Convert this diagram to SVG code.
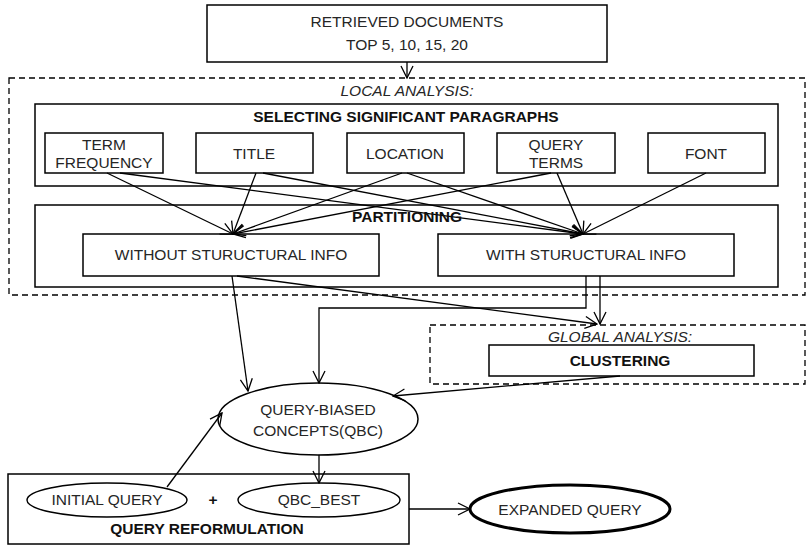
<svg xmlns="http://www.w3.org/2000/svg" width="806" height="546" viewBox="0 0 806 546">
<defs>
<marker id="arr" markerUnits="userSpaceOnUse" markerWidth="14" markerHeight="14" viewBox="0 0 14 14" refX="13" refY="7" orient="auto">
<path d="M1,1 L13,7 L1,13" fill="none" stroke="#000" stroke-width="1.3"/>
</marker>
<style>
.box{fill:#fff;stroke:#000;stroke-width:1.5}
.dash{fill:none;stroke:#000;stroke-width:1.3;stroke-dasharray:6 4}
.t{font-family:"Liberation Sans",Arial,sans-serif;font-size:15.5px;fill:#262626;text-anchor:middle}
.b{font-weight:bold;fill:#111}
.i{font-style:italic}
.c{fill:none;stroke:#000;stroke-width:1.3;marker-end:url(#arr)}
</style>
</defs>
<rect width="806" height="546" fill="#fff"/>

<g id="local-analysis">
<rect class="dash" x="9" y="78" width="796" height="217"/>
<text class="t i" x="407" y="96">LOCAL ANALYSIS:</text>
</g>
<g id="global-analysis">
<rect class="dash" x="430" y="325" width="375" height="59"/>
<text class="t i" x="620" y="342">GLOBAL ANALYSIS:</text>
</g>

<g id="retrieved">
<rect class="box" x="207" y="5" width="400" height="57"/>
<text class="t" x="407" y="27">RETRIEVED DOCUMENTS</text>
<text class="t" x="407" y="50">TOP 5, 10, 15, 20</text>
</g>

<g id="selecting">
<rect class="box" x="35" y="104" width="743" height="82"/>
<text class="t b" x="406" y="122">SELECTING SIGNIFICANT PARAGRAPHS</text>
</g>
<g id="term-frequency">
<rect class="box" x="45" y="133" width="118" height="40"/>
<text class="t" x="104" y="150">TERM</text>
<text class="t" x="104" y="168">FREQUENCY</text>
</g>
<g id="title">
<rect class="box" x="196" y="133" width="117" height="40"/>
<text class="t" x="254" y="159">TITLE</text>
</g>
<g id="location">
<rect class="box" x="347" y="133" width="117" height="40"/>
<text class="t" x="405" y="159">LOCATION</text>
</g>
<g id="query-terms">
<rect class="box" x="497" y="133" width="118" height="40"/>
<text class="t" x="556" y="150">QUERY</text>
<text class="t" x="556" y="168">TERMS</text>
</g>
<g id="font">
<rect class="box" x="648" y="133" width="117" height="40"/>
<text class="t" x="706" y="159">FONT</text>
</g>

<g id="partitioning">
<rect class="box" x="35" y="205" width="743" height="82"/>
</g>
<g id="without">
<rect class="box" x="83" y="234" width="296" height="42"/>
<text class="t" x="231" y="260">WITHOUT STURUCTURAL INFO</text>
</g>
<g id="with">
<rect class="box" x="438" y="234" width="296" height="42"/>
<text class="t" x="586" y="260">WITH STURUCTURAL INFO</text>
</g>

<g id="clustering">
<rect class="box" x="489" y="345" width="265" height="31"/>
<text class="t b" x="620" y="366">CLUSTERING</text>
</g>

<g id="qbc">
<ellipse class="box" cx="318" cy="419" rx="100" ry="36"/>
<text class="t" x="318" y="415">QUERY-BIASED</text>
<text class="t" x="318" y="436">CONCEPTS(QBC)</text>
</g>

<g id="query-reformulation">
<rect class="box" x="8" y="474" width="401" height="70"/>
<text class="t b" x="207" y="534">QUERY REFORMULATION</text>
<text class="t b" x="213" y="505">+</text>
</g>
<g id="initial-query">
<ellipse class="box" cx="107" cy="500" rx="80" ry="17"/>
<text class="t" x="107" y="505">INITIAL QUERY</text>
</g>
<g id="qbc-best">
<ellipse class="box" cx="319" cy="500" rx="81" ry="17"/>
<text class="t" x="319" y="505">QBC_BEST</text>
</g>
<g id="expanded-query">
<ellipse cx="570" cy="509" rx="100" ry="24" fill="#fff" stroke="#000" stroke-width="3"/>
<text class="t" x="570" y="515">EXPANDED QUERY</text>
</g>

<g id="connectors">
<line class="c" x1="407" y1="62" x2="407" y2="78"/>
<line class="c" x1="107" y1="173" x2="233" y2="234"/>
<line class="c" x1="120" y1="173" x2="583" y2="234"/>
<line class="c" x1="256" y1="173" x2="233" y2="234"/>
<line class="c" x1="263" y1="173" x2="583" y2="234"/>
<line class="c" x1="402" y1="173" x2="233" y2="234"/>
<line class="c" x1="407" y1="173" x2="583" y2="234"/>
<line class="c" x1="551" y1="173" x2="233" y2="234"/>
<line class="c" x1="557" y1="173" x2="583" y2="234"/>
<line class="c" x1="706" y1="173" x2="583" y2="234"/>
<line class="c" x1="232" y1="276" x2="248" y2="391"/>
<line class="c" x1="237" y1="276" x2="597" y2="324"/>
<polyline class="c" points="586,276 586,308 319,308 319,383"/>
<line class="c" x1="600" y1="276" x2="600" y2="324"/>
<line class="c" x1="620" y1="376" x2="393" y2="396"/>
<line class="c" x1="319" y1="455" x2="319" y2="483"/>
<line class="c" x1="167" y1="487" x2="222" y2="413"/>
<line class="c" x1="409" y1="509" x2="470" y2="509"/>
</g>
<text class="t b" x="407" y="222">PARTITIONING</text>
</svg>
